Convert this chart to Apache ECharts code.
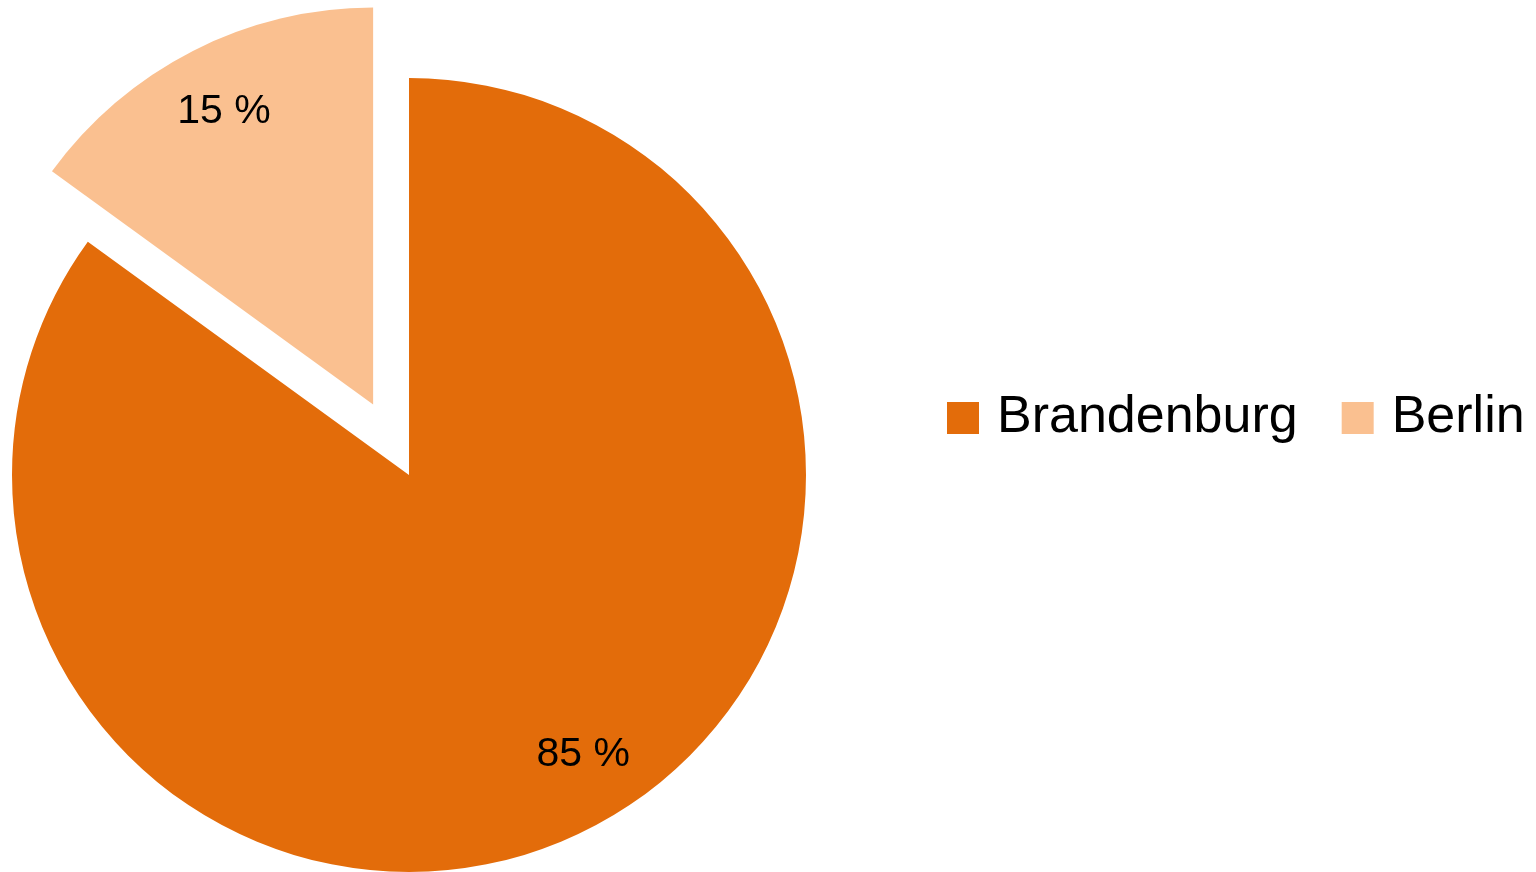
<!DOCTYPE html>
<html>
<head>
<meta charset="utf-8">
<script src="https://cdn.jsdelivr.net/npm/echarts@6/dist/echarts.min.js"></script>
<style>html,body{margin:0;padding:0;background:#fff;}#c{width:1536px;height:872px;}</style>
</head>
<body>
<div id="c"></div>
<script>
const categories = ['Brandenburg', 'Berlin'];
const shares = [85, 15];
const labels = ['85 %', '15 %'];
const colors = ['#E36C0A', '#FAC090'];

const chart = echarts.init(document.getElementById('c'));
const FONT = 'Liberation Sans';
const R = 397;
const center = [409, 475];
const pieData = categories.map((n, i) => ({
  name: n, value: shares[i], selected: n === 'Berlin',
  itemStyle: { color: colors[i] }
}));
const labelData = categories.map((n, i) => ({
  name: n, value: shares[i], selected: n === 'Berlin',
  itemStyle: { color: 'rgba(0,0,0,0)' },
  label: { formatter: labels[i], offset: n === 'Brandenburg' ? [25, -13] : [-12, -8] }
}));
chart.setOption({
  animation: false,
  legend: {
    data: categories,
    left: 947, top: 392, padding: 0,
    itemWidth: 32, itemHeight: 32, itemGap: 44,
    icon: 'rect',
    textStyle: { fontFamily: FONT, fontSize: 52, lineHeight: 52, color: '#000', padding: [0, 0, 0, 13] },
    selectedMode: false
  },
  series: [
    {
      type: 'pie', center: center, radius: [0, R], startAngle: 90, clockwise: true,
      selectedMode: 'multiple', selectedOffset: 79, silent: true,
      label: { show: false }, labelLine: { show: false },
      data: pieData
    },
    {
      type: 'pie', center: center, radius: [254, R], startAngle: 90, clockwise: true,
      selectedMode: 'multiple', selectedOffset: 79, silent: true, legendHoverLink: false,
      label: { show: true, position: 'inside', fontFamily: FONT, fontSize: 41, color: '#000' },
      labelLine: { show: false },
      data: labelData
    }
  ]
});
</script>
</body>
</html>
